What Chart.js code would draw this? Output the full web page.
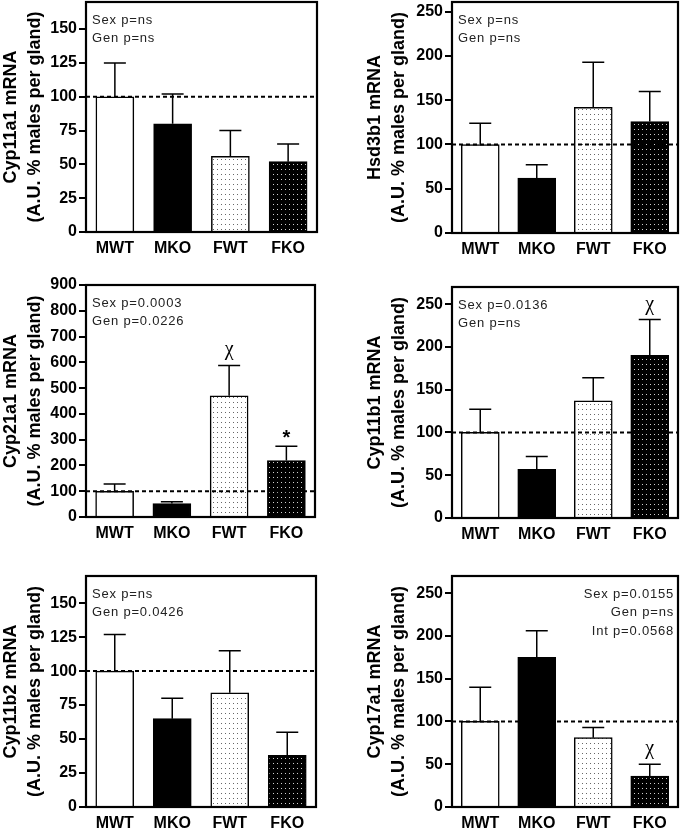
<!DOCTYPE html>
<html>
<head>
<meta charset="utf-8">
<script src="https://cdn.jsdelivr.net/npm/chart.js@4/dist/chart.umd.min.js"></script>
<style>
  html, body { margin: 0; padding: 0; background: #fff; overflow: hidden; }
  body { width: 685px; height: 830px; position: relative; }
  .panel { position: absolute; width: 340px; }
</style>
</head>
<body>
<div class="panel" id="p1"><canvas id="c1"></canvas></div>
<div class="panel" id="p2"><canvas id="c2"></canvas></div>
<div class="panel" id="p3"><canvas id="c3"></canvas></div>
<div class="panel" id="p4"><canvas id="c4"></canvas></div>
<div class="panel" id="p5"><canvas id="c5"></canvas></div>
<div class="panel" id="p6"><canvas id="c6"></canvas></div>
<script>
const groups = ['MWT', 'MKO', 'FWT', 'FKO']
const refLine = 100

// Cyp11a1
const cyp11a1Mean = [100, 80, 56, 52]
const cyp11a1Sem = [25, 22, 19, 13]
const cyp11a1Notes = ['Sex p=ns', 'Gen p=ns']
const cyp11a1Marks = ['', '', '', '']

// Hsd3b1
const hsd3b1Mean = [100, 62, 142, 126]
const hsd3b1Sem = [24, 15, 51, 34]
const hsd3b1Notes = ['Sex p=ns', 'Gen p=ns']
const hsd3b1Marks = ['', '', '', '']

// Cyp21a1
const cyp21a1Mean = [100, 52, 470, 219]
const cyp21a1Sem = [28, 7, 118, 55]
const cyp21a1Notes = ['Sex p=0.0003', 'Gen p=0.0226']
const cyp21a1Marks = ['', '', 'χ', '*']

// Cyp11b1
const cyp11b1Mean = [100, 57, 137, 190]
const cyp11b1Sem = [27, 15, 27, 42]
const cyp11b1Notes = ['Sex p=0.0136', 'Gen p=ns']
const cyp11b1Marks = ['', '', '', 'χ']

// Cyp11b2
const cyp11b2Mean = [100, 65, 84, 38]
const cyp11b2Sem = [27, 15, 31, 17]
const cyp11b2Notes = ['Sex p=ns', 'Gen p=0.0426']
const cyp11b2Marks = ['', '', '', '']

// Cyp17a1
const cyp17a1Mean = [100, 175, 81, 36]
const cyp17a1Sem = [40, 31, 12, 14]
const cyp17a1Notes = ['Sex p=0.0155', 'Gen p=ns', 'Int p=0.0568']
const cyp17a1Marks = ['', '', '', 'χ']

const FONT = '"Liberation Sans", Arial, sans-serif'

function dots(bg, fg) {
    const c = document.createElement('canvas')
    c.width = 4
    c.height = 5
    const g = c.getContext('2d')
    g.fillStyle = bg
    g.fillRect(0, 0, 4, 5)
    g.fillStyle = fg
    g.fillRect(1, 2, 1, 1)
    return g.createPattern(c, 'repeat')
}

const fills = ['#ffffff', '#000000', dots('#ffffff', '#666666'), dots('#000000', '#d0d0d0')]

// error bars, dashed 100% line, frame, stats text, significance marks
const extras = {
    id: 'extras',
    afterDatasetsDraw(chart, args, opts) {
        const ctx = chart.ctx
        const a = chart.chartArea
        const y = chart.scales.y
        const meta = chart.getDatasetMeta(0)
        const vals = chart.data.datasets[0].data
        ctx.save()
        ctx.strokeStyle = '#000'
        ctx.lineWidth = 1.5
        opts.sem.forEach((s, i) => {
            const bx = meta.data[i].x
            const yb = y.getPixelForValue(vals[i])
            const yt = y.getPixelForValue(vals[i] + s)
            ctx.beginPath()
            ctx.moveTo(bx, yb)
            ctx.lineTo(bx, yt)
            ctx.moveTo(bx - 11, yt)
            ctx.lineTo(bx + 11, yt)
            ctx.stroke()
        })

        ctx.setLineDash([4, 3])
        ctx.lineWidth = 2
        const yr = y.getPixelForValue(refLine)
        ctx.beginPath()
        ctx.moveTo(a.left, yr)
        ctx.lineTo(a.right, yr)
        ctx.stroke()
        ctx.setLineDash([])

        ctx.lineWidth = 2.2
        ctx.strokeRect(a.left, a.top, a.right - a.left, a.bottom - a.top)

        ctx.fillStyle = '#222'
        ctx.font = '13px ' + FONT
        ctx.textBaseline = 'middle'
        if ('letterSpacing' in ctx) ctx.letterSpacing = '0.8px'
        opts.notes.forEach((t, i) => {
            if (opts.right) {
                ctx.textAlign = 'right'
                ctx.fillText(t, a.right - 4, a.top + 18 + i * 18.5)
            } else {
                ctx.textAlign = 'left'
                ctx.fillText(t, a.left + 6, a.top + 18 + i * 18.5)
            }
        })
        if ('letterSpacing' in ctx) ctx.letterSpacing = '0px'

        ctx.textAlign = 'center'
        ctx.textBaseline = 'alphabetic'
        ctx.fillStyle = '#000'
        opts.marks.forEach((m, i) => {
            if (!m) return
            const bx = meta.data[i].x
            const yt = y.getPixelForValue(vals[i] + opts.sem[i])
            if (m === 'χ') {
                ctx.font = '20px "Liberation Serif", "Times New Roman", serif'
                ctx.fillText(m, bx, yt - 10)
            } else {
                ctx.font = 'bold 20px ' + FONT
                ctx.fillText(m, bx, yt - 2)
            }
        })
        ctx.restore()
    }
}

function panel(id, box, col, title, mean, sem, notes, marks, step, max, right) {
    const wrap = document.getElementById('p' + id)
    const left = col === 0 ? 0 : 345
    const top = box.top - 20
    const height = box.bottom - top + 30
    wrap.style.left = left + 'px'
    wrap.style.top = top + 'px'
    wrap.style.height = height + 'px'

    new Chart(document.getElementById('c' + id), {
        type: 'bar',
        data: {
            labels: groups,
            datasets: [{
                data: mean,
                backgroundColor: fills,
                borderColor: '#000',
                borderWidth: 1.5,
                barThickness: 38
            }]
        },
        options: {
            responsive: true,
            maintainAspectRatio: false,
            animation: false,
            events: [],
            layout: {
                padding: { top: 20, right: left + 340 - box.right, left: 0, bottom: 0 }
            },
            plugins: {
                legend: { display: false },
                tooltip: { enabled: false },
                extras: { sem: sem, notes: notes, marks: marks, right: right }
            },
            scales: {
                x: {
                    grid: { display: false, drawTicks: false },
                    border: { display: false },
                    ticks: {
                        color: '#000',
                        padding: 7,
                        font: { family: FONT, size: 16, weight: 'bold' }
                    },
                    afterFit: (s) => { s.height = 30 }
                },
                y: {
                    min: 0,
                    max: max,
                    grid: {
                        drawOnChartArea: false,
                        drawTicks: true,
                        tickLength: 7,
                        lineWidth: 2,
                        color: '#000'
                    },
                    border: { display: false },
                    ticks: {
                        color: '#000',
                        padding: 2,
                        font: { family: FONT, size: 16, weight: 'bold' }
                    },
                    afterBuildTicks: (s) => {
                        const t = []
                        for (let v = 0; v <= max; v += step) t.push({ value: v })
                        s.ticks = t
                    },
                    title: {
                        display: true,
                        text: [title, '(A.U. % males per gland)'],
                        color: '#000',
                        padding: { top: col === 0 ? 0 : 19, bottom: 0 },
                        font: { family: FONT, size: 18, weight: 'bold', lineHeight: 1.28 }
                    },
                    afterFit: (s) => { s.width = box.left - left }
                }
            }
        },
        plugins: [extras]
    })
}

panel(1, { left: 86, top: 2, right: 317, bottom: 232 }, 0, 'Cyp11a1 mRNA', cyp11a1Mean, cyp11a1Sem, cyp11a1Notes, cyp11a1Marks, 25, 170, false)
panel(2, { left: 452, top: 2, right: 678, bottom: 233 }, 1, 'Hsd3b1 mRNA', hsd3b1Mean, hsd3b1Sem, hsd3b1Notes, hsd3b1Marks, 50, 261, false)
panel(3, { left: 86, top: 285, right: 315, bottom: 517 }, 0, 'Cyp21a1 mRNA', cyp21a1Mean, cyp21a1Sem, cyp21a1Notes, cyp21a1Marks, 100, 900, false)
panel(4, { left: 452, top: 287, right: 678, bottom: 518 }, 1, 'Cyp11b1 mRNA', cyp11b1Mean, cyp11b1Sem, cyp11b1Notes, cyp11b1Marks, 50, 270, false)
panel(5, { left: 86, top: 576, right: 316, bottom: 807 }, 0, 'Cyp11b2 mRNA', cyp11b2Mean, cyp11b2Sem, cyp11b2Notes, cyp11b2Marks, 25, 170, false)
panel(6, { left: 452, top: 576, right: 678, bottom: 807 }, 1, 'Cyp17a1 mRNA', cyp17a1Mean, cyp17a1Sem, cyp17a1Notes, cyp17a1Marks, 50, 270, true)
</script>
</body>
</html>
